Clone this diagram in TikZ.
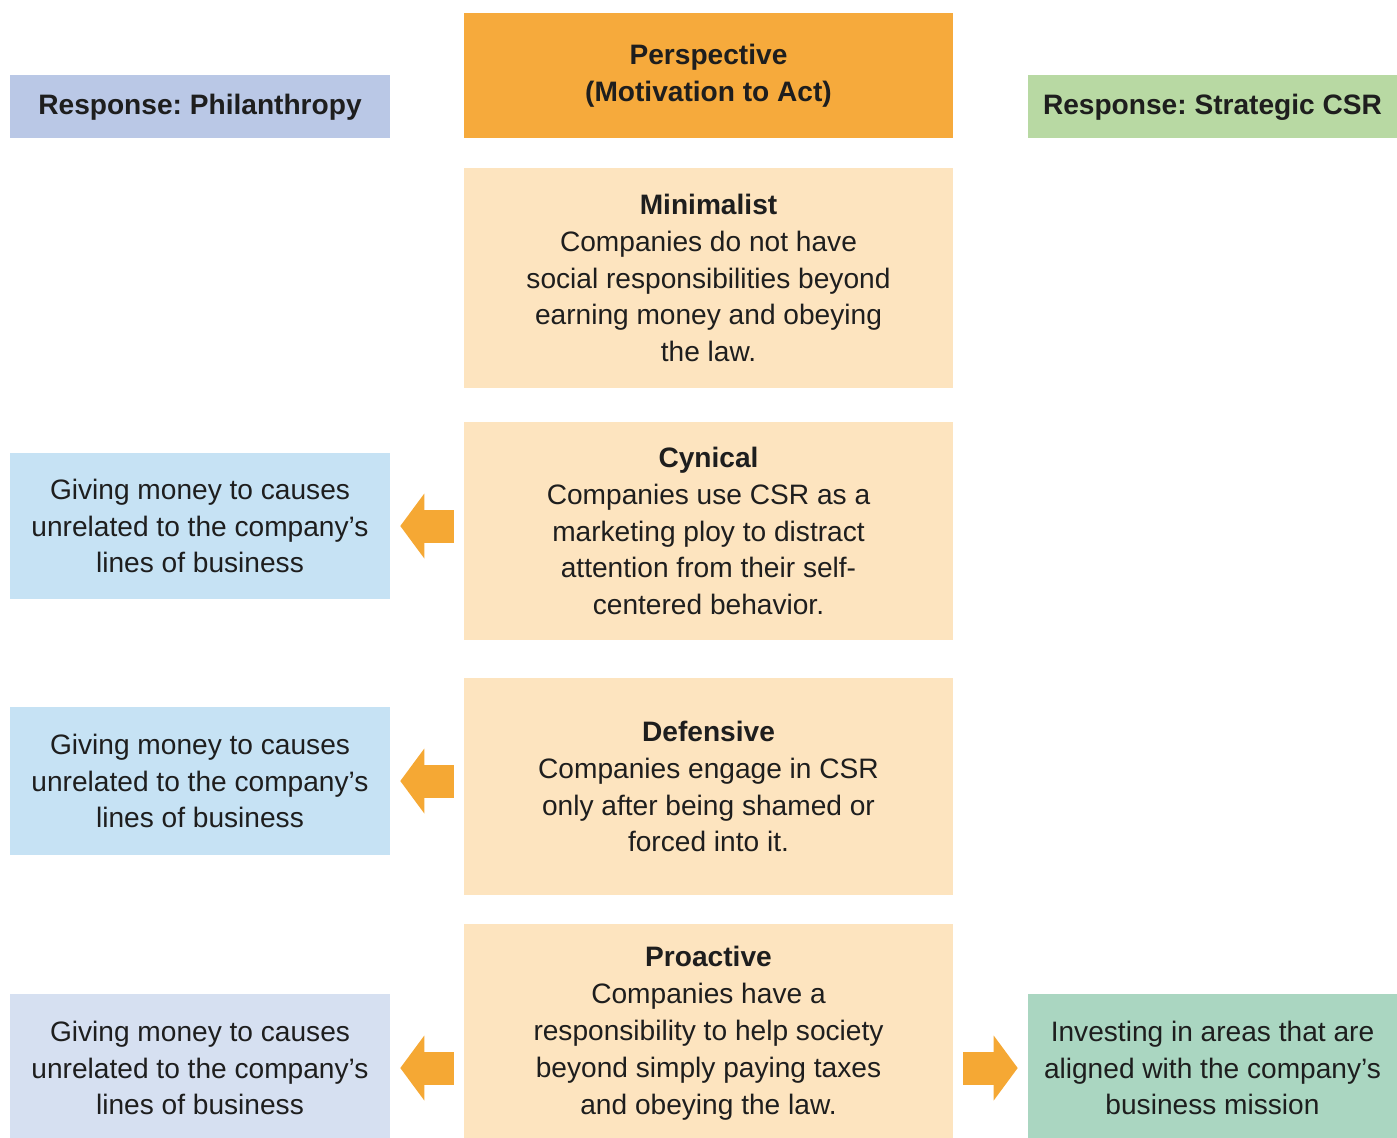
\documentclass[tikz,border=0pt]{standalone}
\usepackage{fontspec}
\setmainfont{Liberation Sans}
\usetikzlibrary{arrows.meta}
\frenchspacing

\definecolor{persporange}{HTML}{F6AA3C}
\definecolor{perspfill}{HTML}{FDE4BF}
\definecolor{philhead}{HTML}{BAC8E6}
\definecolor{strathead}{HTML}{B8D9A3}
\definecolor{givefill}{HTML}{C6E2F4}
\definecolor{givelast}{HTML}{D6E0F1}
\definecolor{investfill}{HTML}{AAD6C1}
\definecolor{arroworange}{HTML}{F5A834}
\definecolor{ink}{HTML}{1E1E1E}

\begin{document}
\begin{tikzpicture}[x=0.02cm, y=-0.02cm,
    cell/.style={inner sep=0pt, align=center, text=ink, font=\fontsize{16}{21}\selectfont},
    headcell/.style={cell, font=\fontsize{16}{21}\selectfont\bfseries},
    sidebox/.style={cell, minimum width=7.6cm},
    perspbox/.style={cell, fill=perspfill, minimum width=9.78cm},
    bigarrow/.style={draw=arroworange, line width=0.66cm, shorten <=0.2cm, shorten >=0.2cm,
        -{Triangle[length=0.48cm, width=1.3cm, line width=0pt]}}]
    \useasboundingbox (0,0) rectangle (1397,1137);

    % headers
    \node[headcell, fill=philhead, minimum width=7.6cm, minimum height=1.26cm, text depth=3pt] (philhdr) at (200, 106.5) {Response: Philanthropy};
    \node[headcell, fill=persporange, minimum width=9.78cm, minimum height=2.5cm, text depth=3pt] (persphdr) at (708.5, 75.5) {Perspective\\(Motivation to Act)};
    \node[headcell, fill=strathead, minimum width=7.38cm, minimum height=1.26cm, text depth=3pt] (strathdr) at (1212.5, 106.5) {Response: Strategic CSR};

    % perspectives
    \node[perspbox, minimum height=4.4cm] (minimal) at (708.5, 278) {\textbf{Minimalist}\\Companies do not have\\social responsibilities beyond\\earning money and obeying\\the law.};
    \node[perspbox, minimum height=4.36cm] (cynical) at (708.5, 531) {\textbf{Cynical}\\Companies use CSR as a\\marketing ploy to distract\\attention from their self-\\centered behavior.};
    \node[perspbox, minimum height=4.34cm] (defens) at (708.5, 786.5) {\textbf{Defensive}\\Companies engage in CSR\\only after being shamed or\\forced into it.};
    \node[perspbox, minimum height=4.36cm] (proact) at (708.5, 1033) {\textbf{Proactive}\\Companies have a\\responsibility to help society\\beyond simply paying taxes\\and obeying the law.};

    % responses
    \node[sidebox, fill=givefill, minimum height=2.92cm] (give1) at (200, 526) {Giving money to causes\\unrelated to the company's\\lines of business};
    \node[sidebox, fill=givefill, minimum height=2.96cm] (give2) at (200, 781) {Giving money to causes\\unrelated to the company's\\lines of business};
    \node[sidebox, fill=givelast, minimum height=2.96cm] (give3) at (200, 1068) {Giving money to causes\\unrelated to the company's\\lines of business};
    \node[sidebox, fill=investfill, minimum width=7.38cm, minimum height=2.96cm] (invest) at (1212.5, 1068) {Investing in areas that are\\aligned with the company's\\business mission};

    \draw[bigarrow] (cynical.west |- give1.east) -- (give1.east);
    \draw[bigarrow] (defens.west |- give2.east) -- (give2.east);
    \draw[bigarrow] (proact.west |- give3.east) -- (give3.east);
    \draw[bigarrow] (proact.east |- invest.west) -- (invest.west);
\end{tikzpicture}
\end{document}
